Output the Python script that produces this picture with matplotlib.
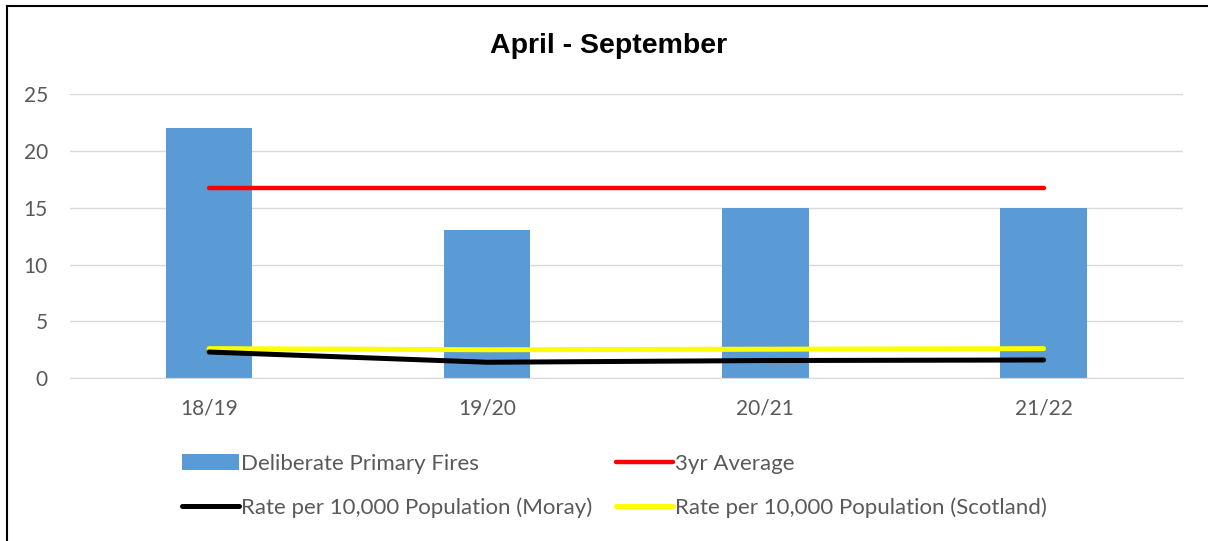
import numpy as np
import matplotlib.pyplot as plt
from matplotlib.lines import Line2D

# Дані
seasons = ["18/19", "19/20", "20/21", "21/22"]
fires = [22, 13, 15, 15]
avg_3yr = [16.7, 16.7, 16.7, 16.7]
rate_moray = [2.3, 1.4, 1.55, 1.6]
rate_scotland = [2.6, 2.5, 2.55, 2.6]

plt.rcParams['font.family'] = ['Lato', 'DejaVu Sans']

fig = plt.figure(figsize=(12.08, 5.41), dpi=100)
ax = fig.add_axes([0.058, 0.301, 0.921, 0.525])

x = np.arange(len(seasons))
bars = ax.bar(x, fires, width=0.31, color='#5b9bd5', zorder=2,
              label="Deliberate Primary Fires")
l_avg, = ax.plot(x, avg_3yr, color='#ff0000', lw=3.2, zorder=3,
                 solid_capstyle='round', label="3yr Average")
l_sc, = ax.plot(x, rate_scotland, color='#ffff00', lw=3.6, zorder=3,
                solid_capstyle='round', label="Rate per 10,000 Population (Scotland)")
l_mo, = ax.plot(x, rate_moray, color='black', lw=3.6, zorder=4,
                solid_capstyle='round', label="Rate per 10,000 Population (Moray)")

ax.set_xlim(-0.5, len(seasons) - 0.5)
ax.set_ylim(0, 25)
ax.set_yticks(range(0, 26, 5))
ax.set_xticks(x)
ax.set_xticklabels(seasons)
ax.grid(axis='y', color='#d9d9d9', lw=1, zorder=0)
ax.set_axisbelow(True)
for s in ['top', 'right', 'left']:
    ax.spines[s].set_visible(False)
ax.spines['bottom'].set_color('#d9d9d9')
ax.tick_params(length=0, labelsize=15, colors='#595959')
ax.tick_params(axis='x', pad=15)
ax.tick_params(axis='y', pad=16)

fig.text(0.504, 0.915, "April - September", ha='center', va='center',
         fontsize=20.5, fontweight='bold', family=['Liberation Sans', 'DejaVu Sans'])

fig.legend([bars, l_mo, l_avg, l_sc],
           ["Deliberate Primary Fires", "Rate per 10,000 Population (Moray)",
            "3yr Average", "Rate per 10,000 Population (Scotland)"],
           ncol=2, loc='center left', bbox_to_anchor=(0.134, 0.102),
           frameon=False, fontsize=16, labelcolor='#595959',
           handlelength=2.55, handletextpad=0.1, columnspacing=1.1,
           labelspacing=1.05)

# рамка
fig.add_artist(Line2D([0.006, 0.006], [0, 0.988], color='black', lw=1.5,
                      transform=fig.transFigure))
fig.add_artist(Line2D([0.006, 1], [0.988, 0.988], color='black', lw=1.5,
                      transform=fig.transFigure))

fig.savefig("out.png", dpi=100)
